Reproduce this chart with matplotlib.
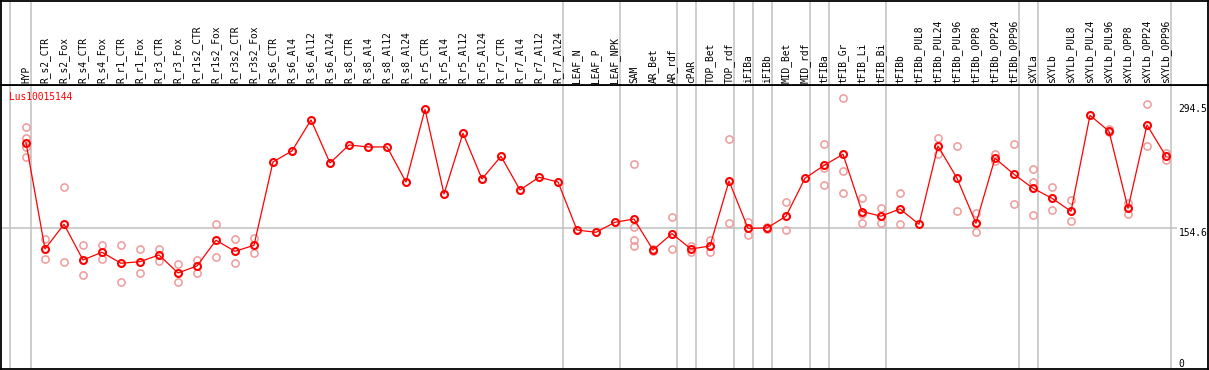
import matplotlib
matplotlib.use('Agg')
import matplotlib.pyplot as plt
import numpy as np

plt.rcParams['font.family'] = ['DejaVu Sans Mono']

# ---- data ----
gene = 'Lus10015144'

categories = [
    'HYP', 'R_s2_CTR', 'R_s2_Fox', 'R_s4_CTR', 'R_s4_Fox', 'R_r1_CTR', 'R_r1_Fox',
    'R_r3_CTR', 'R_r3_Fox', 'R_r1s2_CTR', 'R_r1s2_Fox', 'R_r3s2_CTR', 'R_r3s2_Fox',
    'R_s6_CTR', 'R_s6_Al4', 'R_s6_Al12', 'R_s6_Al24', 'R_s8_CTR', 'R_s8_Al4',
    'R_s8_Al12', 'R_s8_Al24', 'R_r5_CTR', 'R_r5_Al4', 'R_r5_Al12', 'R_r5_Al24',
    'R_r7_CTR', 'R_r7_Al4', 'R_r7_Al12', 'R_r7_Al24', 'LEAF_N', 'LEAF_P', 'LEAF_NPK',
    'SAM', 'AR_Bet', 'AR_rdf', 'cPAR', 'TOP_Bet', 'TOP_rdf', 'iFIBa', 'iFIBb',
    'MID_Bet', 'MID_rdf', 'tFIBa', 'tFIB_Gr', 'tFIB_Li', 'tFIB_Bi', 'tFIBb',
    'tFIBb_PUL8', 'tFIBb_PUL24', 'tFIBb_PUL96', 'tFIBb_OPP8', 'tFIBb_OPP24',
    'tFIBb_OPP96', 'sXYLa', 'sXYLb', 'sXYLb_PUL8', 'sXYLb_PUL24', 'sXYLb_PUL96',
    'sXYLb_OPP8', 'sXYLb_OPP24', 'sXYLb_OPP96',
]

means = [
    255.1, 129.8, 159.0, 116.9, 126.0, 113.0, 114.9, 122.8, 101.6, 109.8, 140.1,
    127.1, 134.2, 232.4, 245.4, 281.9, 231.2, 252.4, 250.1, 250.1, 208.8, 294.5,
    194.7, 266.2, 212.4, 239.1, 199.4, 214.4, 208.8, 152.2, 149.5, 161.3, 165.2,
    128.7, 147.9, 129.8, 133.4, 210.0, 154.2, 154.6, 168.4, 213.2, 228.3, 241.5,
    174.0, 168.5, 177.0, 159.0, 251.2, 213.2, 160.1, 236.7, 217.9, 201.4, 189.6,
    174.3, 287.4, 268.6, 177.8, 276.0, 239.1,
]

replicates = [
    [273.6, 261.0, 250.1, 237.9], [141.3, 117.7], [202.6, 114.2], [134.2, 99.2],
    [134.6, 117.7], [134.2, 90.6], [129.5, 101.2], [129.8, 116.1], [112.2, 90.6],
    [116.9, 101.9], [159.0, 120.1], [141.6, 113.0], [143.2, 125.5],
    [], [], [], [], [], [], [], [], [], [], [], [], [], [], [], [], [], [], [],
    [229.7, 155.4, 140.5, 133.0], [130.4, 126.9], [167.6, 129.8], [133.0, 126.0],
    [140.8, 126.0], [259.1, 160.1], [162.0, 146.0], [156.1, 153.1], [184.9, 151.9],
    [], [253.2, 225.0, 204.9], [307.5, 221.4, 195.5], [189.6, 171.5, 160.8],
    [177.8, 159.9], [195.5, 159.0], [], [260.7, 241.8], [251.2, 174.3],
    [171.9, 149.5], [241.5, 233.2], [253.2, 182.5], [224.1, 209.2, 170.3],
    [203.3, 175.5], [187.6, 162.5], [], [270.7, 267.7], [183.5, 170.5],
    [300.7, 251.2], [243.0, 234.2],
]

# group separators drawn just right of these columns
separators_after = ['HYP', 'R_r7_Al24', 'LEAF_NPK', 'AR_rdf', 'cPAR', 'TOP_rdf',
                    'iFIBa', 'iFIBb', 'MID_rdf', 'tFIBa', 'tFIB_Bi', 'tFIBb_OPP96',
                    'sXYLa', 'sXYLb_OPP96']

ref_level = 154.6
ytick_values = [294.5, 154.6, 0]
ytick_labels = ['294.5', '154.6', '0']

# ---- layout (pixel based, 1209x370) ----
W, H = 1209, 370
fig = plt.figure(figsize=(W / 100, H / 100), dpi=100)

x0_px, step_px = 26.0, 19.0
left_px, right_px = 1.0, 1208.0
xlim = ((left_px - x0_px) / step_px, (right_px - x0_px) / step_px)

ax = fig.add_axes([left_px / W, 1 / H, (right_px - left_px) / W, 284 / H])
hdr = fig.add_axes([left_px / W, 285 / H, (right_px - left_px) / W, 84.5 / H])

ylim = (-11.6, 323.1)
for a in (ax, hdr):
    a.set_xlim(*xlim)
    a.set_xticks([])
    a.set_yticks([])
    for s in a.spines.values():
        s.set_linewidth(1.3)
        s.set_color('black')
ax.set_ylim(*ylim)
hdr.set_ylim(0, 1)

x = np.arange(len(categories))

# separators
sep_x = [categories.index(c) + 0.247 for c in separators_after] + [-0.83]
for a in (ax, hdr):
    for sx in sep_x:
        a.axvline(sx, color='#c0c0c0', lw=1.1, zorder=1)

ax.hlines(ref_level, xlim[0], 60.6, color='#c0c0c0', lw=1.1, zorder=1)

# replicates
for xi, reps in zip(x, replicates):
    if reps:
        ax.plot([xi] * len(reps), reps, 'o', ms=5.2, mfc='none', mec='#f09a9a',
                mew=1.1, zorder=2, clip_on=False)

# mean line + markers
ax.plot(x, means, '-', color='red', lw=0.9, zorder=3)
ax.plot(x, means, 'o', ms=5.0, mfc='none', mec='red', mew=1.5, zorder=4)

# column labels
for xi, lab in zip(x, categories):
    hdr.text(xi, 2 / 85, lab, rotation=90, ha='center', va='bottom',
             fontsize=6.9, color='black')

# value labels on the right
lab_x = 60.67
ax.text(lab_x, ytick_values[0], ytick_labels[0], ha='left', va='center',
        fontsize=6.9, color='black', clip_on=True)
ax.text(lab_x, ytick_values[1], ytick_labels[1], ha='left', va='top',
        fontsize=6.9, color='black', clip_on=True)
ax.text(lab_x, ytick_values[2], ytick_labels[2], ha='left', va='top',
        fontsize=6.9, color='black', clip_on=True)

ax.text(0.0065, 0.957, gene, transform=ax.transAxes, ha='left', va='center',
        fontsize=6.9, color='red')

fig.savefig('out.png', dpi=100, facecolor='white')
